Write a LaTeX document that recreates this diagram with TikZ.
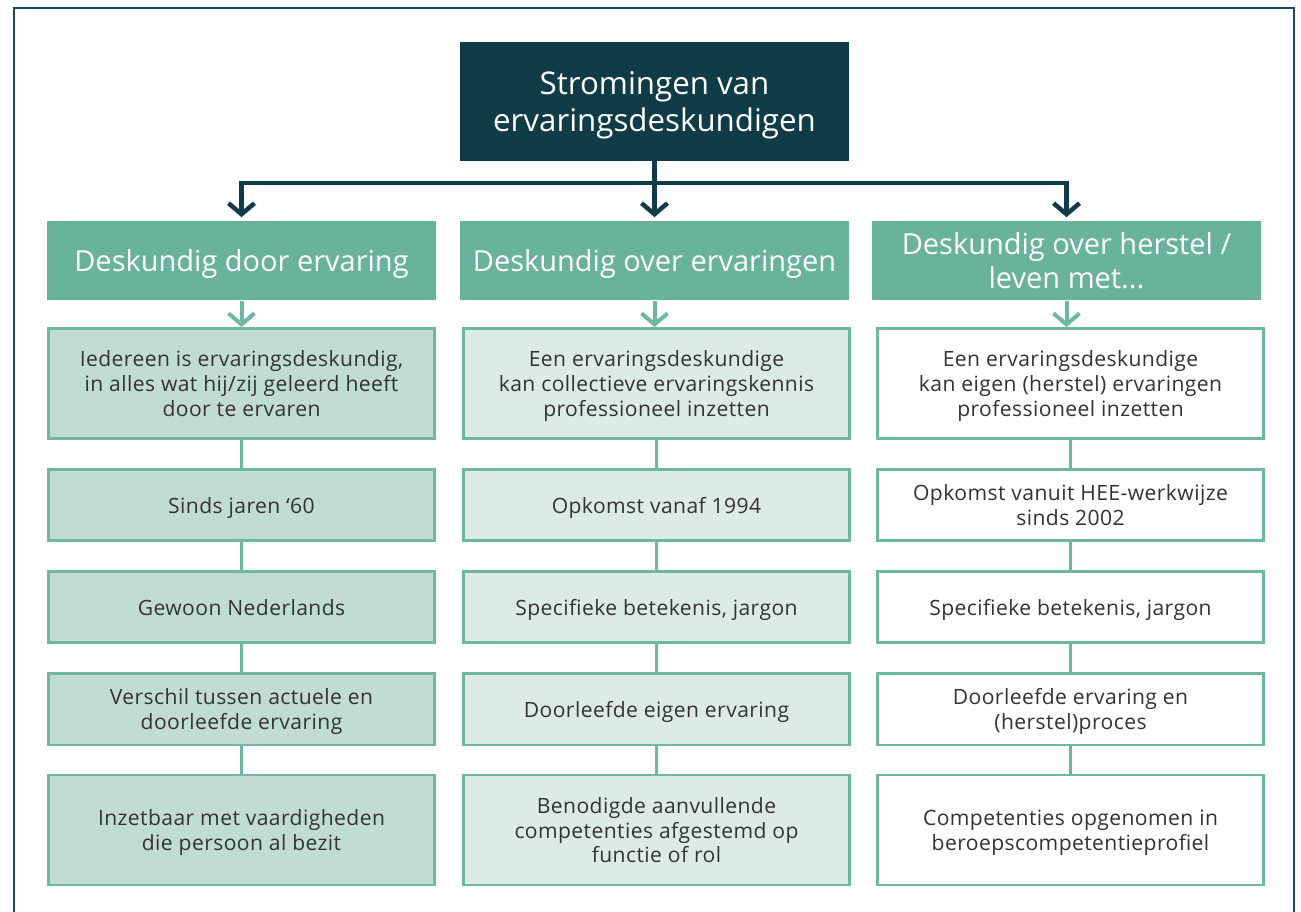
\documentclass[tikz,border=0pt]{standalone}
\usepackage{fontspec}
\setmainfont{Open Sans}
\newfontfamily\bodyfont{Open Sans}[LetterSpace=2]
\usepackage{tikz}
\usetikzlibrary{arrows.meta}
\definecolor{darkteal}{RGB}{15,60,70}
\definecolor{frameteal}{RGB}{30,75,85}
\definecolor{headgreen}{RGB}{105,179,157}
\definecolor{linegreen}{RGB}{110,183,160}
\definecolor{fillone}{RGB}{193,220,210}
\definecolor{filltwo}{RGB}{221,235,230}
\definecolor{textgray}{RGB}{51,51,51}
\tikzset{
    titlebox/.style={fill=darkteal, text=white, minimum width=7.78cm, minimum height=2.38cm,
            align=center, inner sep=0pt, text depth=0pt, font=\fontsize{17.8}{21.6}\selectfont},
    headbox/.style={fill=headgreen, text=white, minimum width=7.78cm, minimum height=1.6cm,
            align=center, inner sep=0pt, text depth=0pt, font=\fontsize{16.5}{18.8}\selectfont},
    bodybox/.style={draw=linegreen, line width=0.05cm, text=textgray, minimum width=7.73cm,
            align=center, inner sep=0pt, text depth=0pt, font=\bodyfont\fontsize{12}{14.2}\selectfont},
    tallbox/.style={bodybox, minimum height=2.21cm},
    lowbox/.style={bodybox, minimum height=1.43cm},
    darkarrow/.style={draw=darkteal, line width=0.09cm, shorten >=0.06cm,
            -{Straight Barb[length=0.22cm, width=0.52cm]}},
    greenarrow/.style={draw=linegreen, line width=0.08cm,
            -{Straight Barb[length=0.22cm, width=0.52cm]}},
    greenline/.style={draw=linegreen, line width=0.05cm},
}
\begin{document}
\begin{tikzpicture}[x=0.02cm, y=-0.02cm]
        \useasboundingbox (0, 0) rectangle (1301, 912);
        %draw outer frame
        \draw[frameteal, line width=0.04cm] (14, 920) -- (14, 8) -- (1294, 8) -- (1294, 920);
        %draw title
        \node[titlebox] (title) at (654.5, 101.5) {Stromingen van\\ervaringsdeskundigen};
        %draw headers
        \node[headbox] (head1) at (241.5, 260.5) {Deskundig door ervaring};
        \node[headbox] (head2) at (654.5, 260.5) {Deskundig over ervaringen};
        \node[headbox] (head3) at (1066.5, 260.5) {Deskundig over herstel /\\leven met...};
        %draw first column
        \node[tallbox, fill=fillone] (a1) at (241.5, 383.5) {Iedereen is ervaringsdeskundig,\\in alles wat hij/zij geleerd heeft\\door te ervaren};
        \node[lowbox, fill=fillone] (a2) at (241.5, 505) {Sinds jaren ‘60};
        \node[lowbox, fill=fillone] (a3) at (241.5, 607) {Gewoon Nederlands};
        \node[lowbox, fill=fillone] (a4) at (241.5, 709) {Verschil tussen actuele en\\doorleefde ervaring};
        \node[tallbox, fill=fillone] (a5) at (241.5, 830) {Inzetbaar met vaardigheden\\die persoon al bezit};
        %draw second column
        \node[tallbox, fill=filltwo] (b1) at (656.5, 383.5) {Een ervaringsdeskundige\\kan collectieve ervaringskennis\\professioneel inzetten};
        \node[lowbox, fill=filltwo] (b2) at (656.5, 505) {Opkomst vanaf 1994};
        \node[lowbox, fill=filltwo] (b3) at (656.5, 607) {Specifieke betekenis, jargon};
        \node[lowbox, fill=filltwo] (b4) at (656.5, 709) {Doorleefde eigen ervaring};
        \node[tallbox, fill=filltwo] (b5) at (656.5, 830) {Benodigde aanvullende\\competenties afgestemd op\\functie of rol};
        %draw third column
        \node[tallbox, fill=white] (c1) at (1070.5, 383.5) {Een ervaringsdeskundige\\kan eigen (herstel) ervaringen\\professioneel inzetten};
        \node[lowbox, fill=white] (c2) at (1070.5, 505) {Opkomst vanuit HEE-werkwijze\\sinds 2002};
        \node[lowbox, fill=white] (c3) at (1070.5, 607) {Specifieke betekenis, jargon};
        \node[lowbox, fill=white] (c4) at (1070.5, 709) {Doorleefde ervaring en\\(herstel)proces};
        \node[tallbox, fill=white] (c5) at (1070.5, 830) {Competenties opgenomen in\\beroepscompetentieprofiel};
        %draw arrows from title to headers
        \coordinate (split) at (654.5, 183);
        \draw[darkarrow] (title.south) -- (head2.north);
        \draw[darkarrow] (split) -| (head1.north);
        \draw[darkarrow] (split) -| (head3.north);
        %draw arrows from headers to columns
        \draw[greenarrow] (head1.south) -- (head1.south |- a1.north);
        \draw[greenarrow] (head2.south) -- (head2.south |- b1.north);
        \draw[greenarrow] (head3.south) -- (head3.south |- c1.north);
        %draw lines between boxes
        \draw[greenline] (a1) -- (a2) (a2) -- (a3) (a3) -- (a4) (a4) -- (a5);
        \draw[greenline] (b1) -- (b2) (b2) -- (b3) (b3) -- (b4) (b4) -- (b5);
        \draw[greenline] (c1) -- (c2) (c2) -- (c3) (c3) -- (c4) (c4) -- (c5);
    \end{tikzpicture}
\end{document}
